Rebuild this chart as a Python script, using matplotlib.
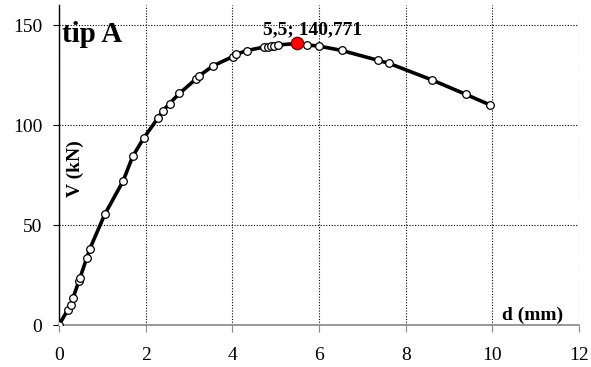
import matplotlib
matplotlib.use("Agg")
import matplotlib.pyplot as plt

# measured points (d in mm, V in kN)
d_mm = [0.0, 0.2, 0.28, 0.32, 0.46, 0.48, 0.64, 0.71, 1.06, 1.48, 1.7, 1.95,
        2.29, 2.39, 2.55, 2.78, 3.16, 3.23, 3.55, 4.01, 4.09, 4.33, 4.74, 4.82,
        4.89, 4.97, 5.05, 5.5, 5.72, 5.99, 6.52, 7.37, 7.62, 8.61, 9.39, 9.95]
v_kn = [0.0, 7.5, 10.0, 13.3, 22.0, 23.3, 33.5, 38.0, 55.5, 72.0, 84.3, 93.3,
        103.7, 107.0, 110.7, 115.8, 123.0, 124.5, 129.5, 134.2, 135.3, 137.2, 139.0, 139.2,
        139.5, 139.7, 140.0, 140.771, 140.0, 139.5, 137.3, 132.3, 130.8, 122.5, 115.3, 110.0]
peak_d = 5.5
peak_v = 140.771
peak_label = "5,5; 140,771"

plt.rcParams["font.family"] = ["Liberation Serif", "DejaVu Serif"]

fig = plt.figure(figsize=(5.91, 3.67), dpi=100)
ax = fig.add_axes([59 / 591, 42 / 367, 520 / 591, 320 / 367])

ax.plot(d_mm, v_kn, color="black", lw=2.6, zorder=3)
ax.plot(d_mm, v_kn, ls="none", marker="o", ms=5.5, mfc="white", mec="black",
        mew=0.9, zorder=4)
ax.plot([peak_d], [peak_v], ls="none", marker="o", ms=9, mfc="red",
        mec="#600000", mew=0.8, zorder=5)
# label sits a little right of the peak, as in the original
ax.text(5.84, 147.5, peak_label, ha="center", va="center",
        fontsize=14, fontweight="bold", zorder=6)

ax.set_xlim(0, 12)
ax.set_ylim(0, 160)
ax.set_xticks(range(0, 13, 2))
ax.set_yticks([0, 50, 100, 150])
ax.grid(True, color="black", ls=(0, (1, 1.5)), lw=0.8)
ax.set_axisbelow(True)

for s in ("top", "right"):
    ax.spines[s].set_visible(False)
ax.spines["left"].set_color("black")
ax.spines["left"].set_linewidth(1.0)
ax.spines["bottom"].set_color("#888888")
ax.spines["bottom"].set_linewidth(1.2)
ax.tick_params(axis="x", direction="out", length=5, color="#888888",
               labelsize=14, pad=11)
ax.tick_params(axis="y", direction="out", length=4, color="black",
               labelsize=14, pad=8)

ax.text(0.06, 145, "tip A", fontsize=21, fontweight="bold", ha="left",
        va="center")
ax.text(0.38, 78, "V (kN)", fontsize=14, fontweight="bold", rotation=90,
        ha="center", va="center")
ax.text(10.22, 2.5, "d (mm)", fontsize=14, fontweight="bold", ha="left",
        va="baseline")

fig.savefig("out.png", dpi=100, facecolor="white")
